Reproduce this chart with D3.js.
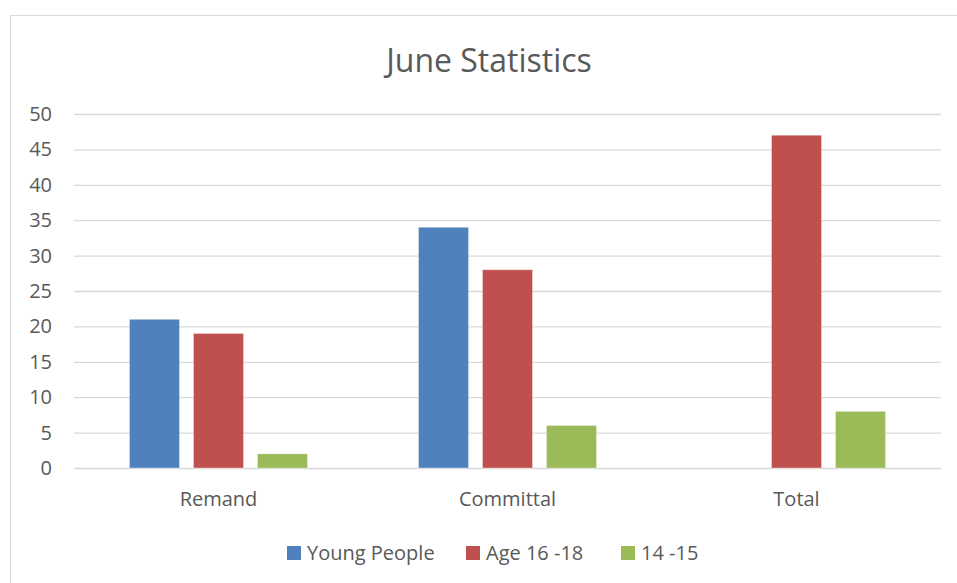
<!DOCTYPE html>
<html>
<head>
<meta charset="utf-8">
<script src="https://cdn.jsdelivr.net/npm/d3@7"></script>
<style>
  body { margin: 0; background: #fff; }
  text { font-family: "Open Sans", "Noto Sans", sans-serif; fill: #595959; }
</style>
</head>
<body>
<div id="chart"></div>
<script>
// chart data
var categories = ["Remand", "Committal", "Total"];
var seriesNames = ["Young People", "Age 16 -18", "14 -15"];
var youngPeople = [21, 34, null];
var age16to18 = [19, 28, 47];
var age14to15 = [2, 6, 8];
var yTicks = [0, 5, 10, 15, 20, 25, 30, 35, 40, 45, 50];
var colors = ["#4F81BD", "#C0504D", "#9BBB59"];

var width = 957, height = 583;
var plot = {left: 74, right: 941, top: 114, bottom: 468};

var svg = d3.select("#chart").append("svg")
    .attr("width", width)
    .attr("height", height);

// outer chart border
svg.append("rect")
    .attr("x", 10.5).attr("y", 15.5)
    .attr("width", width + 20).attr("height", height + 20)
    .attr("fill", "none")
    .attr("stroke", "#d9d9d9");

svg.append("text")
    .attr("x", 489).attr("y", 72)
    .attr("text-anchor", "middle")
    .style("font-size", "32px")
    .text("June Statistics");

var x = d3.scaleBand()
    .domain(categories)
    .range([plot.left, plot.right]);

var x1 = d3.scaleBand()
    .domain(seriesNames)
    .range([55.5, x.bandwidth() - 55.5])
    .paddingInner(14 / 64);

var y = d3.scaleLinear()
    .domain([0, 50])
    .range([plot.bottom, plot.top]);

// gridlines + y labels
var yAxis = d3.axisLeft(y)
    .tickValues(yTicks)
    .tickSize(-(plot.right - plot.left))
    .tickPadding(22);

var gy = svg.append("g")
    .attr("transform", "translate(" + plot.left + ",0)")
    .call(yAxis);
gy.select(".domain").remove();
gy.selectAll(".tick line").attr("stroke", "#d9d9d9").attr("stroke-width", 1.3);
gy.selectAll(".tick text")
    .style("font-size", "20px")
    .attr("fill", "#595959")
    .style("font-family", "'Open Sans', sans-serif");

var xAxis = d3.axisBottom(x).tickSize(0).tickPadding(24);
var gx = svg.append("g")
    .attr("transform", "translate(0," + plot.bottom + ")")
    .call(xAxis);
gx.select(".domain").remove();
gx.selectAll(".tick text")
    .style("font-size", "20px")
    .attr("fill", "#595959")
    .style("font-family", "'Open Sans', sans-serif");

var allSeries = [youngPeople, age16to18, age14to15];

var groups = svg.append("g").selectAll("g")
    .data(categories)
    .enter().append("g")
    .attr("transform", function(d) { return "translate(" + x(d) + ",0)"; });

groups.selectAll("rect")
    .data(function(d, i) {
        return seriesNames.map(function(s, j) {
            return {name: s, value: allSeries[j][i], color: colors[j]};
        }).filter(function(e) { return e.value != null; });
    })
    .enter().append("rect")
    .attr("x", function(d) { return x1(d.name); })
    .attr("y", function(d) { return y(d.value); })
    .attr("width", x1.bandwidth())
    .attr("height", function(d) { return plot.bottom - y(d.value); })
    .attr("fill", function(d) { return d.color; })
    .attr("stroke", "#ffffff")
    .attr("stroke-opacity", 0.4)
    .attr("stroke-width", 0.8);

// legend
var legendX = [287, 466, 621];
var legend = svg.append("g").selectAll("g")
    .data(seriesNames)
    .enter().append("g")
    .attr("transform", function(d, i) { return "translate(" + legendX[i] + ",546)"; });

legend.append("rect")
    .attr("width", 14).attr("height", 14)
    .attr("fill", function(d, i) { return colors[i]; });

legend.append("text")
    .attr("x", 20).attr("y", 14)
    .style("font-size", "20px")
    .text(function(d) { return d; });
</script>
</body>
</html>
